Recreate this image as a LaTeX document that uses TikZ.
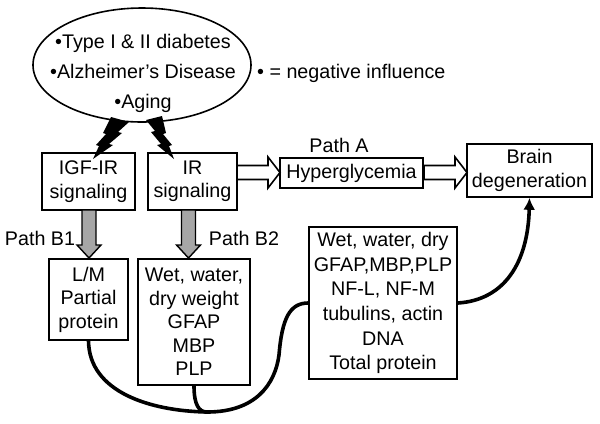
\documentclass[tikz,border=0pt]{standalone}
\usepackage{fontspec}
\setmainfont{Liberation Sans}
\usetikzlibrary{arrows.meta,shapes.geometric}
\begin{document}
\begin{tikzpicture}[x=1bp,y=-1bp,
  every node/.style={font=\fontsize{19.7bp}{23.5bp}\selectfont},
  box/.style={draw, line width=1.6bp, inner sep=0pt, align=center},
  ltext/.style={inner sep=0pt, align=center},
  curve/.style={line width=3.6bp},
  bolt/.style={fill=black},
  hollow/.style={draw, line width=1.6bp, fill=white, line join=miter},
  grayarrow/.style={draw, line width=1.4bp, fill=black!35, line join=miter}]
\useasboundingbox (0,0) rectangle (600,423);
% condition ellipse
\node[draw, ellipse, line width=1.6bp, minimum width=218bp, minimum height=114bp, inner sep=0pt] (cond) at (142,65) {};
\node[ltext, font=\fontsize{19.7bp}{30bp}\selectfont] (condtext) at (143,73) {•Type I \& II diabetes\\•Alzheimer’s Disease\\•Aging};
\node[ltext, anchor=west] (legend) at (257,73) {• = negative influence};
% boxes
\node[box, minimum width=93bp, minimum height=57bp] (igf) at (88.5,181.5) {IGF-IR\\signaling};
\node[box, minimum width=89bp, minimum height=57bp] (ir) at (192.5,181.5) {IR\\signaling};
\node[box, minimum width=143bp, minimum height=30bp] (hyper) at (351.5,173) {Hyperglycemia};
\node[box, minimum width=125bp, minimum height=53bp] (brain) at (529.5,170.5) {Brain\\degeneration};
\node[box, minimum width=79bp, minimum height=81bp] (lm) at (88.5,299.5) {L/M\\Partial\\protein};
\node[box, minimum width=112bp, minimum height=126bp] (wet) at (194,322) {Wet, water,\\dry weight\\GFAP\\MBP\\PLP};
\node[box, minimum width=148bp, minimum height=152bp, font=\fontsize{19.7bp}{24.6bp}\selectfont] (big) at (383,303) {Wet, water, dry\\GFAP,MBP,PLP\\NF-L, NF-M\\tubulins, actin\\DNA\\Total protein};
% labels
\node[ltext] (pa) at (339,145) {Path A};
\node[ltext] (pb1) at (40,238) {Path B1};
\node[ltext] (pb2) at (244,238) {Path B2};
% lightning bolts
\fill[bolt] (111,117) -- (129,122) -- (118,132) -- (122,133) -- (109,144) -- (113,145) -- (93,159)
  -- (99,146) -- (96,145) -- (106,134) -- (103,133) -- cycle;
\fill[bolt] (146,120) -- (155,131) -- (151,132) -- (161,144) -- (157,145) -- (174,159)
  -- (169,146) -- (172,145) -- (163,134) -- (166,133) -- (162,116) -- cycle;
% hollow arrows
\draw[hollow] (237,165.5) -- (268,165.5) -- (268,157) -- (280,172.5) -- (268,188) -- (268,179.5) -- (237,179.5) -- cycle;
\draw[hollow] (424,165.5) -- (455,165.5) -- (455,157) -- (467,172.5) -- (455,188) -- (455,179.5) -- (424,179.5) -- cycle;
% gray arrows
\draw[grayarrow] (82,210) -- (96,210) -- (96,245) -- (101,245) -- (89,258) -- (77,245) -- (82,245) -- cycle;
\draw[grayarrow] (181.5,210) -- (195.5,210) -- (195.5,245) -- (200.5,245) -- (188.5,258) -- (176.5,245) -- (181.5,245) -- cycle;
% curves
\coordinate (join) at (207,412);
\draw[curve] (lm.south) .. controls (89,392) and (150,411) .. (join);
\draw[curve] (wet.south) .. controls (194,405) and (199,412) .. (join);
\draw[curve] (join) .. controls (255,412) and (275,385) .. (279,355) .. controls (282,318) and (290,303) .. (big.west);
\draw[curve, -{Latex[length=12bp,width=12bp]}] (big.east) .. controls (505,300) and (528,262) .. (brain.south);
\end{tikzpicture}
\end{document}
